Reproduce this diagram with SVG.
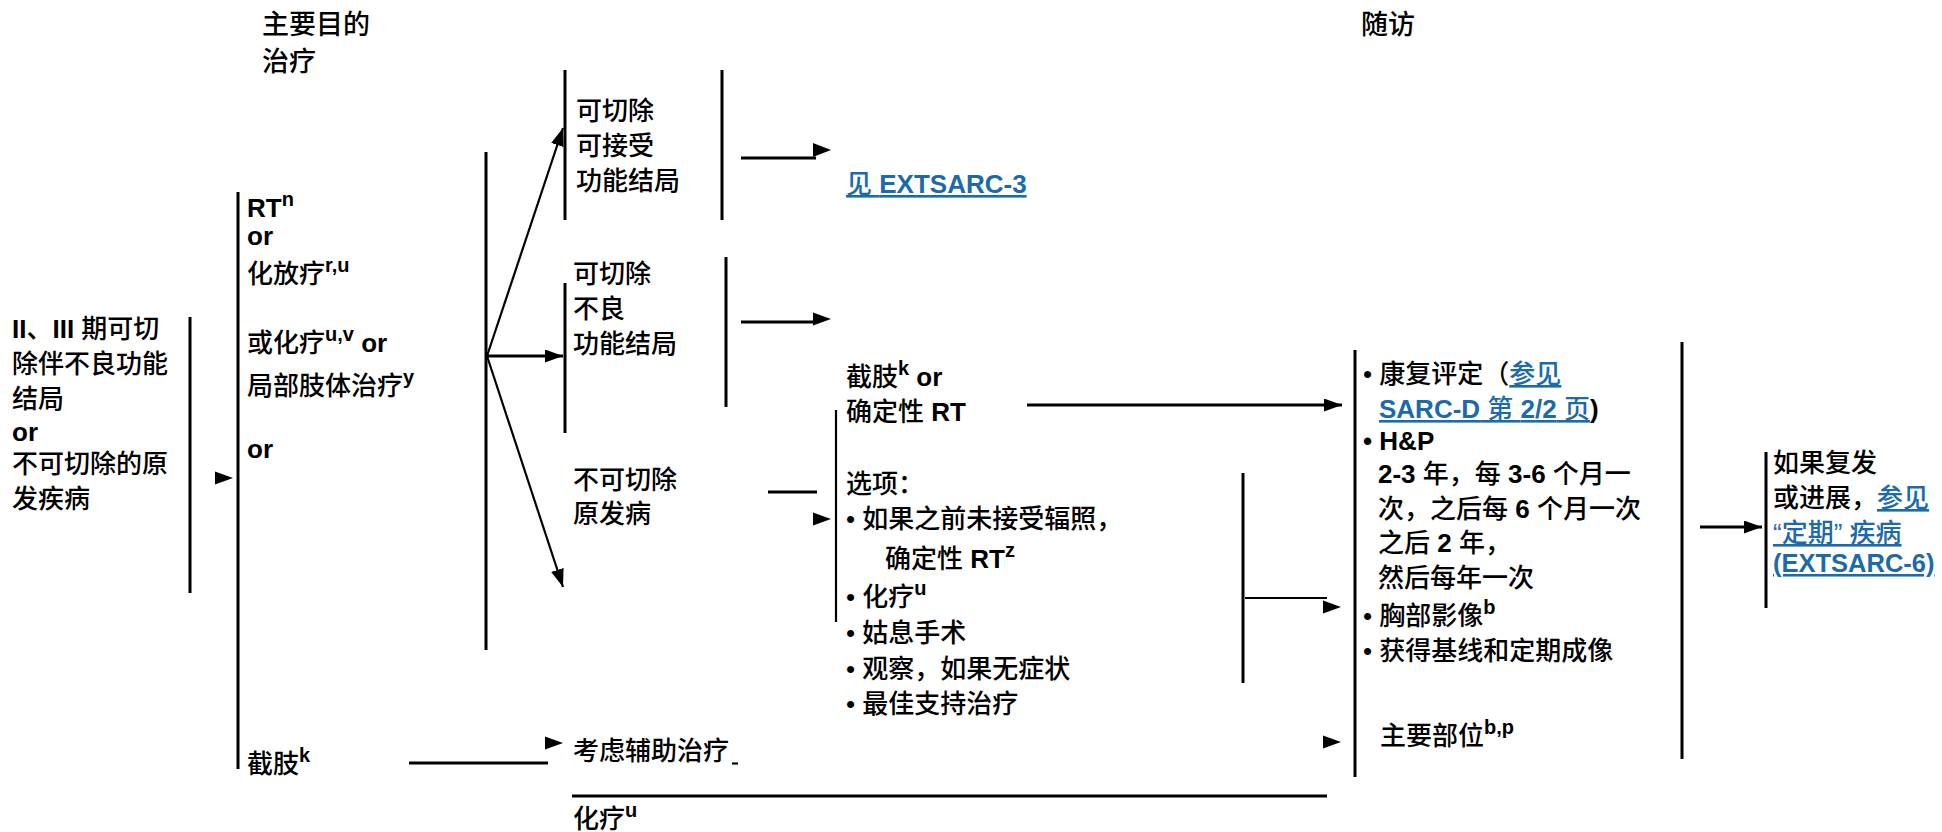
<svg xmlns="http://www.w3.org/2000/svg" xmlns:xlink="http://www.w3.org/1999/xlink" width="1942" height="832" viewBox="0 0 1942 832">
<style>
text{font-family:'Liberation Sans','Noto Sans CJK SC',sans-serif;font-size:26px;font-weight:500;fill:#000}
.h{font-size:27px}
.b{font-weight:bold}
.s{font-size:20px;font-weight:bold}
.lk{fill:#1b6aa9;text-decoration:underline}
.ln{stroke:#000;stroke-width:3;fill:none}
.tn{stroke:#000;stroke-width:2.2;fill:none}
</style>
<defs>
<path id="tri" d="M0 -6.5 L18 0 L0 6.5 Z" fill="#000"/>
<marker id="ah" markerWidth="18" markerHeight="13" refX="18" refY="6.5" orient="auto" markerUnits="userSpaceOnUse"><path d="M0 0 L18 6.5 L0 13 Z" fill="#000"/></marker>
</defs>
<rect width="1942" height="832" fill="#fff"/>

<g id="connectors">
<line class="ln" x1="190" y1="317" x2="190" y2="593"/>
<use href="#tri" x="215" y="478"/>
<line class="ln" x1="238" y1="192" x2="238" y2="769"/>
<line class="ln" x1="486" y1="152" x2="486" y2="650"/>
<line class="tn" x1="487" y1="356" x2="563" y2="128" marker-end="url(#ah)"/>
<line class="ln" x1="487" y1="356" x2="563" y2="356" marker-end="url(#ah)"/>
<line class="tn" x1="487" y1="356" x2="563" y2="587" marker-end="url(#ah)"/>
<line class="ln" x1="565" y1="70" x2="565" y2="220"/>
<line class="ln" x1="722" y1="70" x2="722" y2="220"/>
<line class="ln" x1="565" y1="283" x2="565" y2="433"/>
<line class="ln" x1="726" y1="257" x2="726" y2="407"/>
<line class="ln" x1="741" y1="158" x2="816" y2="158"/>
<path d="M813 143 L831 150 L813 157 Z"/>
<line class="ln" x1="741" y1="322" x2="814" y2="322"/>
<path d="M813 312.5 L831 319 L813 325.5 Z"/>
<line class="ln" x1="768" y1="492" x2="817" y2="492"/>
<use href="#tri" x="813" y="519"/>
<line class="tn" x1="836" y1="410" x2="836" y2="622"/>
<line class="ln" x1="1027" y1="405" x2="1342" y2="405" marker-end="url(#ah)"/>
<line class="ln" x1="1243" y1="473" x2="1243" y2="683"/>
<line class="tn" x1="1245" y1="598" x2="1327" y2="598"/>
<use href="#tri" x="1323" y="607"/>
<use href="#tri" x="1323" y="742"/>
<line class="ln" x1="409" y1="763" x2="548" y2="763"/>
<use href="#tri" x="545" y="743"/>
<line class="tn" x1="732" y1="763.5" x2="738" y2="763.5"/>
<line class="ln" x1="572" y1="796" x2="1327" y2="796"/>
<line class="ln" x1="1355" y1="350" x2="1355" y2="777"/>
<line class="ln" x1="1682" y1="342" x2="1682" y2="759"/>
<line class="ln" x1="1700" y1="527" x2="1762" y2="527" marker-end="url(#ah)"/>
<line class="ln" x1="1766" y1="452" x2="1766" y2="608"/>
</g>

<g id="header-primary">
<text class="h" x="262" y="34">主要目的</text>
<text class="h" x="262" y="71">治疗</text>
</g>
<g id="header-followup">
<text class="h" x="1361" y="34">随访</text>
</g>

<g id="node-stage">
<text x="12" y="338"><tspan class="b">II</tspan>、<tspan class="b">III</tspan> 期可切</text>
<text x="12" y="373">除伴不良功能</text>
<text x="12" y="408">结局</text>
<text x="12" y="441" class="b">or</text>
<text x="12" y="473">不可切除的原</text>
<text x="12" y="508">发疾病</text>
</g>

<g id="node-primary">
<text x="247" y="217"><tspan class="b">RT</tspan><tspan class="s" dy="-11">n</tspan></text>
<text x="247" y="245" class="b">or</text>
<text x="247" y="283">化放疗<tspan class="s" dy="-11">r,u</tspan></text>
<text x="247" y="352">或化疗<tspan class="s" dy="-11">u,v</tspan><tspan class="b" dy="11"> or</tspan></text>
<text x="247" y="395">局部肢体治疗<tspan class="s" dy="-11">y</tspan></text>
<text x="247" y="458" class="b">or</text>
<text x="247" y="773">截肢<tspan class="s" dy="-11">k</tspan></text>
</g>

<g id="node-resectable-acceptable">
<text x="576" y="120">可切除</text>
<text x="576" y="155">可接受</text>
<text x="576" y="190">功能结局</text>
</g>
<g id="node-see-extsarc3">
<text x="846" y="193" class="lk">见 <tspan class="b">EXTSARC-3</tspan></text>
</g>

<g id="node-resectable-poor">
<text x="573" y="283">可切除</text>
<text x="573" y="318">不良</text>
<text x="573" y="353">功能结局</text>
</g>
<g id="node-amputation-rt">
<text x="846" y="386">截肢<tspan class="s" dy="-11">k</tspan><tspan class="b" dy="11"> or</tspan></text>
<text x="846" y="421">确定性 <tspan class="b">RT</tspan></text>
</g>

<g id="node-unresectable">
<text x="573" y="489">不可切除</text>
<text x="573" y="523">原发病</text>
</g>
<g id="node-options">
<text x="846" y="493">选项：</text>
<text x="846" y="528">• 如果之前未接受辐照，</text>
<text x="885" y="568">确定性 <tspan class="b">RT</tspan><tspan class="s" dy="-11">z</tspan></text>
<text x="846" y="606">• 化疗<tspan class="s" dy="-11">u</tspan></text>
<text x="846" y="642">• 姑息手术</text>
<text x="846" y="678">• 观察，如果无症状</text>
<text x="846" y="713">• 最佳支持治疗</text>
</g>

<g id="node-adjuvant">
<text x="573" y="760">考虑辅助治疗</text>
</g>
<g id="node-chemo">
<text x="573" y="828">化疗<tspan class="s" dy="-11">u</tspan></text>
</g>

<g id="node-followup">
<text x="1363" y="383">• 康复评定（<tspan class="lk">参见</tspan></text>
<text x="1379" y="418"><tspan class="lk"><tspan class="b">SARC-D</tspan> 第 <tspan class="b">2/2</tspan> 页</tspan><tspan class="b">)</tspan></text>
<text x="1363" y="450" class="b">• H&amp;P</text>
<text x="1378" y="483"><tspan class="b">2-3</tspan> 年，每 <tspan class="b">3-6</tspan> 个月一</text>
<text x="1378" y="518">次，之后每 <tspan class="b">6</tspan> 个月一次</text>
<text x="1378" y="552">之后 <tspan class="b">2</tspan> 年，</text>
<text x="1378" y="587">然后每年一次</text>
<text x="1363" y="625">• 胸部影像<tspan class="s" dy="-11">b</tspan></text>
<text x="1363" y="660">• 获得基线和定期成像</text>
<text x="1380" y="745">主要部位<tspan class="s" dy="-11">b,p</tspan></text>
</g>

<g id="node-recurrence">
<text x="1773" y="472">如果复发</text>
<text x="1773" y="507">或进展，<tspan class="lk">参见</tspan></text>
<text x="1773" y="542" class="lk">“定期” 疾病</text>
<text x="1773" y="572" class="lk b" style="font-size:25.5px">(EXTSARC-6)</text>
</g>
</svg>
